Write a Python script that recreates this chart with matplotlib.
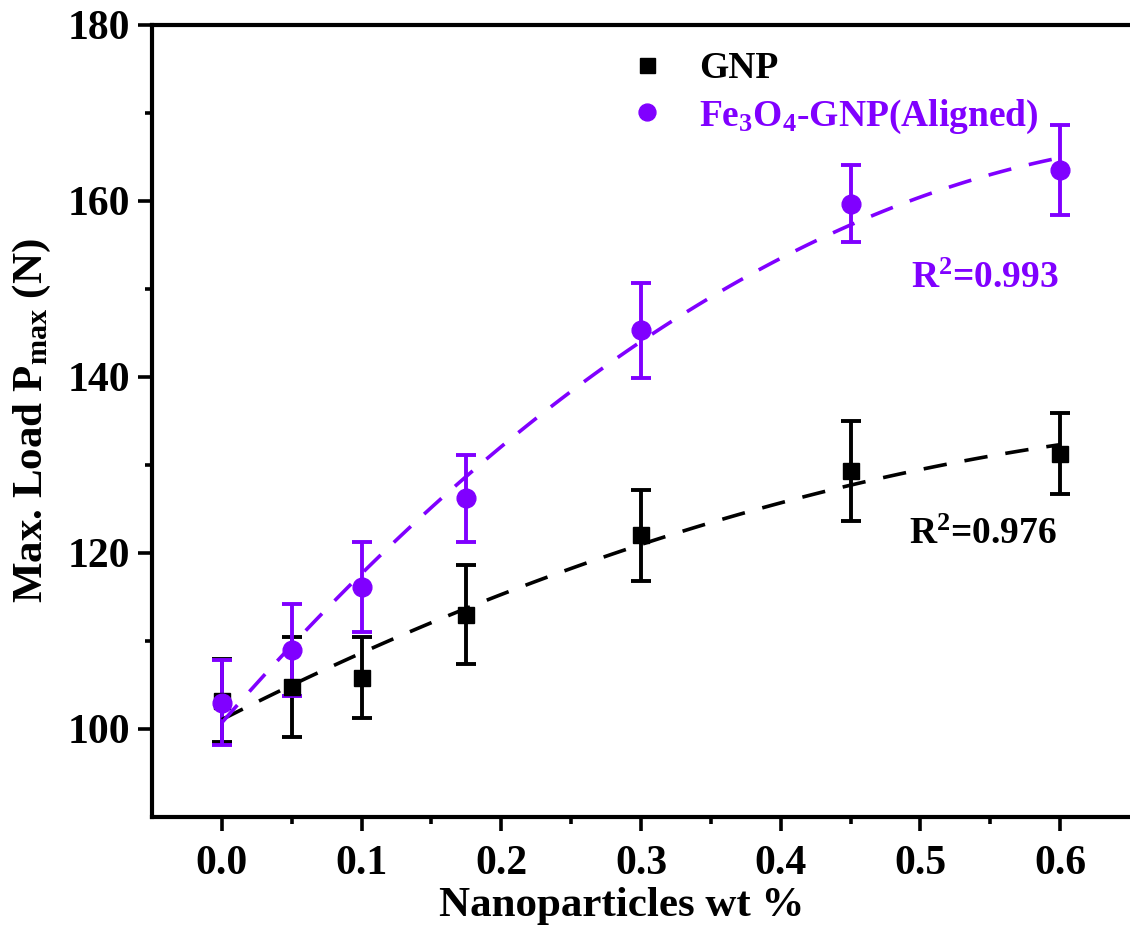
import numpy as np
import matplotlib
matplotlib.use("Agg")
import matplotlib.pyplot as plt

plt.rcParams['font.family'] = 'Liberation Serif'
plt.rcParams['font.weight'] = 'bold'
plt.rcParams['mathtext.fontset'] = 'custom'
plt.rcParams['mathtext.rm'] = 'Liberation Serif:bold'
plt.rcParams['mathtext.it'] = 'Liberation Serif:bold'
plt.rcParams['mathtext.bf'] = 'Liberation Serif:bold'

wt = [0.0, 0.05, 0.1, 0.175, 0.3, 0.45, 0.6]
gnp = [103.2, 104.8, 105.8, 113.0, 122.0, 129.3, 131.3]
gnp_err = [4.7, 5.7, 4.6, 5.6, 5.2, 5.7, 4.6]
fe = [103.0, 109.0, 116.1, 126.2, 145.3, 159.7, 163.5]
fe_err = [4.8, 5.2, 5.1, 4.9, 5.4, 4.4, 5.1]

purple = '#8000FF'

fig = plt.figure(figsize=(11.3, 9.35), dpi=100)
ax = fig.add_axes([0.1345, 0.1262, 0.8655, 0.8471])

xs = np.linspace(0.0, 0.6, 100)
p1 = np.polyfit(wt, gnp, 2)
p2 = np.polyfit(wt, fe, 2)

e1 = ax.errorbar(wt, gnp, yerr=gnp_err, fmt='s', color='black', ms=12,
                 capsize=7.5, elinewidth=2.8, capthick=2.8, zorder=2)
e2 = ax.errorbar(wt, fe, yerr=fe_err, fmt='o', color=purple, ms=13.5,
                 capsize=7.5, elinewidth=2.8, capthick=2.8, zorder=2)
ax.plot(xs, np.polyval(p1, xs), color='black', lw=2.6, dashes=(6.5, 5), zorder=3)
ax.plot(xs, np.polyval(p2, xs), color=purple, lw=2.6, dashes=(6.5, 5), zorder=3)

ax.set_xlim(-0.05, 0.65)
ax.set_ylim(90, 180)
ax.set_xticks([0.0, 0.1, 0.2, 0.3, 0.4, 0.5, 0.6])
ax.set_xticks([0.05, 0.15, 0.25, 0.35, 0.45, 0.55], minor=True)
ax.set_yticks([100, 120, 140, 160, 180])
ax.set_yticks([110, 130, 150, 170], minor=True)
ax.tick_params(which='major', length=10, width=2.6, labelsize=30, pad=6)
ax.tick_params(which='minor', length=5, width=2.6)
ax.tick_params(axis='x', pad=10)
for lab in ax.get_xticklabels() + ax.get_yticklabels():
    lab.set_fontweight('bold')
for s in ['left', 'bottom', 'top']:
    ax.spines[s].set_linewidth(3)
ax.spines['right'].set_visible(False)

ax.set_xlabel('Nanoparticles wt %', fontsize=31, fontweight='bold', labelpad=3)
ax.xaxis.label.set_x(0.48)
ax.set_ylabel(r'Max. Load P$_{\mathrm{max}}$ (N)', fontsize=31, fontweight='bold', labelpad=10)

leg = ax.legend([e1[0], e2[0]], ['GNP', r'Fe$_3$O$_4$-GNP(Aligned)'],
                loc='upper left', bbox_to_anchor=(0.46, 1.005), frameon=False,
                prop={'size': 27, 'weight': 'bold'}, handlelength=0.8,
                handletextpad=1.0, labelspacing=0.3, markerscale=0.9,
                borderpad=0.3)
leg.get_texts()[1].set_color(purple)

ax.text(0.493, 151.2, r'R$^2$=0.993', fontsize=27, fontweight='bold', color=purple, va='center')
ax.text(0.492, 122.1, r'R$^2$=0.976', fontsize=27, fontweight='bold', color='black', va='center')

fig.savefig('out.png', dpi=100)
